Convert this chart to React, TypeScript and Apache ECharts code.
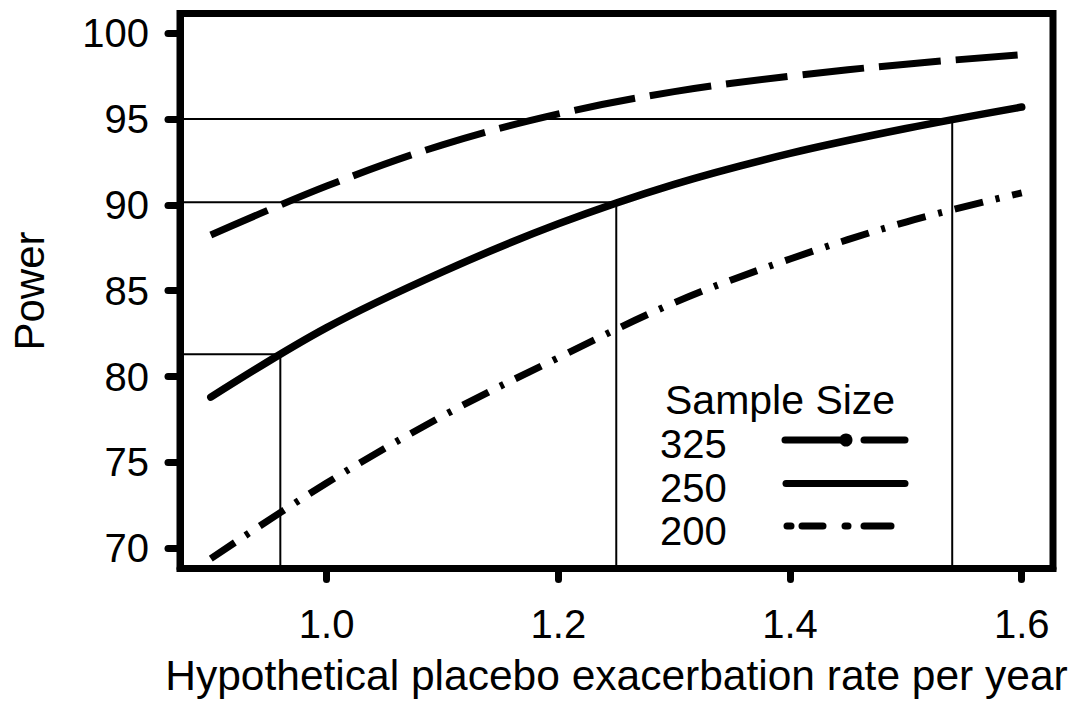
import React, { useEffect, useRef } from "react";
import * as echarts from "echarts";

// ---- data ----
const rates = [0.9, 1.0, 1.1, 1.2, 1.3, 1.4, 1.5, 1.6];
const power325 = [88.25, 91.1, 93.5, 95.3, 96.6, 97.5, 98.2, 98.75];
const power250 = [78.8, 82.85, 86.1, 88.9, 91.2, 93.0, 94.45, 95.7];
const power200 = [69.4, 73.8, 77.7, 81.1, 84.3, 86.85, 89.0, 90.7];

const refRates = [0.96, 1.25, 1.54];
const refPowers = [81.3, 90.15, 95.0];

const xTicks = [1.0, 1.2, 1.4, 1.6];
const yTicks = [70, 75, 80, 85, 90, 95, 100];

const legendTitle = "Sample Size";
const sampleSizes = ["325", "250", "200"];

const X_MIN = 0.8734;
const X_MAX = 1.627;
const Y_MIN = 68.82;
const Y_MAX = 101.15;

const FONT = "'Liberation Sans', Arial, Helvetica, sans-serif";

export default function App() {
  const ref = useRef<HTMLDivElement>(null);

  useEffect(() => {
    if (!ref.current) return;
    const chart = echarts.init(ref.current, null, { renderer: "svg" });

    const pairs = (ys: number[]) => rates.map((x, i) => [x, ys[i]]);

    const refSeries = refRates.map((rx, i) => ({
      type: "line",
      name: "ref" + i,
      data: [
        [X_MIN, refPowers[i]],
        [rx, refPowers[i]],
        [rx, Y_MIN],
      ],
      symbol: "none",
      silent: true,
      z: 1,
      lineStyle: { color: "#000", width: 2 },
    }));

    const textEl = (text: string, x: number, y: number, size: number) => ({
      type: "text",
      x,
      y,
      style: {
        text,
        fill: "#000",
        fontSize: size,
        fontFamily: FONT,
        lineHeight: 36,
        align: "left",
        verticalAlign: "middle",
        textAlign: "left",
        textVerticalAlign: "middle",
      },
    });

    const seg = (x1: number, x2: number, y: number) => ({
      type: "line",
      shape: { x1, y1: y, x2, y2: y },
      style: { stroke: "#000", lineWidth: 7, lineCap: "round" },
    });

    const option: any = {
      animation: false,
      backgroundColor: "#fff",
      grid: {
        left: 178,
        right: 20,
        top: 13.5,
        bottom: 141.5,
        show: true,
        borderColor: "#000",
        borderWidth: 7,
        backgroundColor: "transparent",
      },
      xAxis: {
        type: "value",
        min: X_MIN,
        max: X_MAX,
        name: "Hypothetical placebo exacerbation rate per year",
        nameLocation: "middle",
        nameGap: 85,
        nameTextStyle: { fontSize: 42.5, color: "#000", fontFamily: FONT },
        axisLine: { show: true, lineStyle: { color: "#000", width: 7 } },
        axisTick: {
          show: true,
          length: 11,
          customValues: xTicks,
          lineStyle: { color: "#000", width: 7, cap: "round" },
        },
        axisLabel: {
          customValues: xTicks,
          fontSize: 40,
          color: "#000",
          fontFamily: FONT,
          margin: 35,
          formatter: (v: number) => v.toFixed(1),
        },
        splitLine: { show: false },
      },
      yAxis: {
        type: "value",
        min: Y_MIN,
        max: Y_MAX,
        name: "Power",
        nameLocation: "middle",
        nameGap: 130,
        nameTextStyle: { fontSize: 42, color: "#000", fontFamily: FONT },
        axisLine: { show: true, lineStyle: { color: "#000", width: 7 } },
        axisTick: {
          show: true,
          length: 12,
          customValues: yTicks,
          lineStyle: { color: "#000", width: 7, cap: "round" },
        },
        axisLabel: {
          customValues: yTicks,
          fontSize: 40,
          color: "#000",
          fontFamily: FONT,
          margin: 31,
          formatter: (v: number) => String(Math.round(v)),
        },
        splitLine: { show: false },
      },
      series: [
        ...refSeries,
        {
          type: "line",
          name: sampleSizes[0],
          data: pairs(power325),
          smooth: 0.35,
          symbol: "none",
          z: 3,
          lineStyle: { color: "#000", width: 7, type: [62, 15], cap: "butt" },
        },
        {
          type: "line",
          name: sampleSizes[1],
          data: pairs(power250),
          smooth: 0.35,
          symbol: "none",
          z: 3,
          lineStyle: { color: "#000", width: 7.5, type: "solid", cap: "round" },
        },
        {
          type: "line",
          name: sampleSizes[2],
          data: pairs(power200),
          smooth: 0.35,
          symbol: "none",
          z: 3,
          lineStyle: { color: "#000", width: 7, type: [29, 13, 4, 13], cap: "butt" },
        },
      ],
      graphic: [
        textEl(legendTitle, 665, 400, 41),
        textEl(sampleSizes[0], 660, 444, 40),
        textEl(sampleSizes[1], 660, 487.5, 40),
        textEl(sampleSizes[2], 660, 531, 40),
        // 325 legend glyph
        seg(785, 846, 440),
        { type: "circle", shape: { cx: 846, cy: 440, r: 6.5 }, style: { fill: "#000" } },
        seg(864, 905, 440),
        // 250 legend glyph
        seg(786, 905, 483.5),
        // 200 legend glyph
        seg(787, 791, 526),
        seg(802, 823, 526),
        seg(845, 848, 526),
        seg(864, 891, 526),
      ],
    };

    chart.setOption(option);
    return () => chart.dispose();
  }, []);

  return (
    <div
      ref={ref}
      style={{
        position: "fixed",
        left: 0,
        top: 0,
        width: 1073,
        height: 710,
        background: "#fff",
      }}
    />
  );
}
